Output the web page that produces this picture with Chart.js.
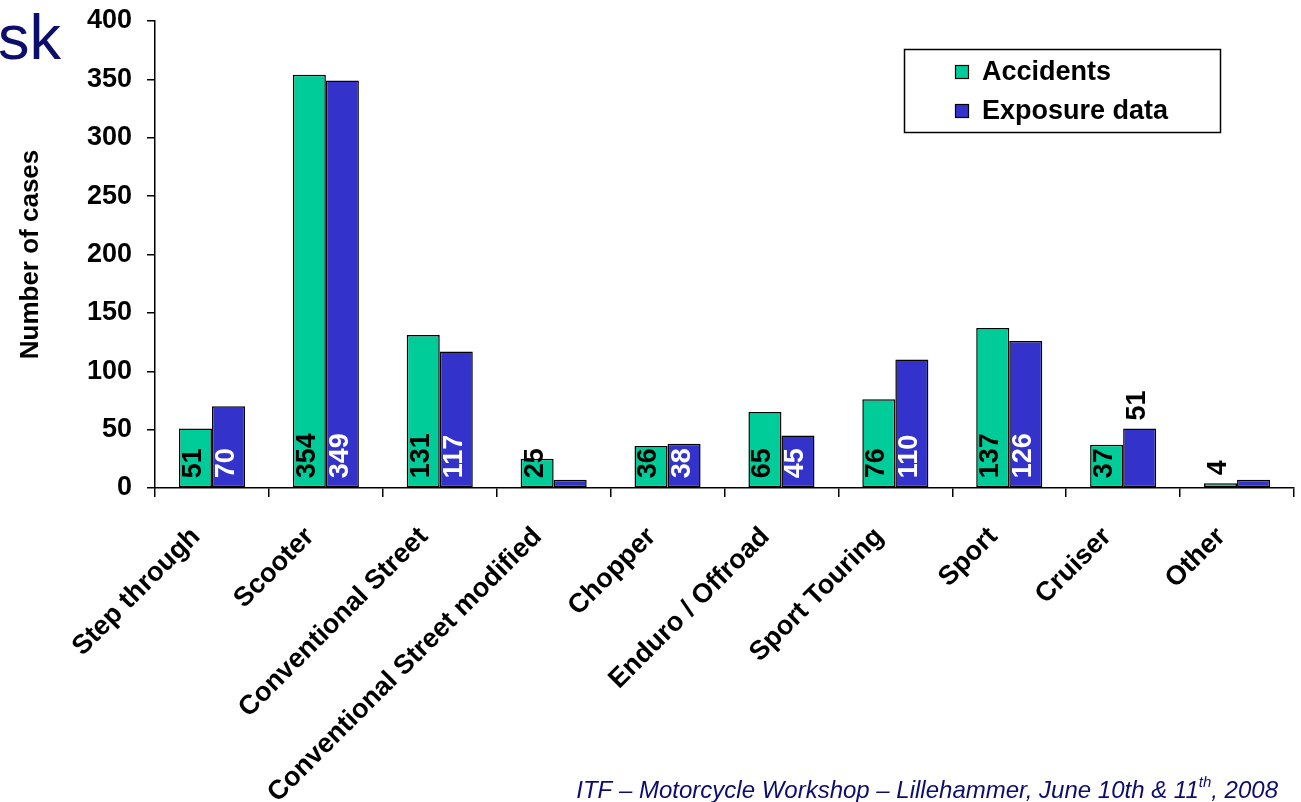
<!DOCTYPE html>
<html>
<head>
<meta charset="utf-8">
<script src="https://cdn.jsdelivr.net/npm/chart.js@4"></script>
<style>
  html, body { margin: 0; padding: 0; background: #fff; }
  #wrap { width: 1301px; height: 802px; position: relative; }
</style>
</head>
<body>
<div id="wrap"><canvas id="chart" width="1301" height="802"></canvas></div>
<script>
const categories = ['Step through', 'Scooter', 'Conventional Street', 'Conventional Street modified',
  'Chopper', 'Enduro / Offroad', 'Sport Touring', 'Sport', 'Cruiser', 'Other']
const accidents = [51, 354, 131, 25, 36, 65, 76, 137, 37, 4]
const exposure = [70, 349, 117, 7, 38, 45, 110, 126, 51, 7]
// where each value label goes: in = inside at bar base, out = above bar, none = no label
const accidentsLabelPos = ['in', 'in', 'in', 'in', 'in', 'in', 'in', 'in', 'in', 'out']
const exposureLabelPos = ['in', 'in', 'in', 'none', 'in', 'in', 'in', 'in', 'out', 'none']
const yTicks = [0, 50, 100, 150, 200, 250, 300, 350, 400]

const FONT = '"Liberation Sans", Arial, sans-serif'
const GREEN = '#00CC99'
const BLUE = '#3333CC'
const NAVY = '#0d0d6b'

// value labels, rotated, like the original slide
const barLabels = {
  id: 'barLabels',
  afterDatasetsDraw(chart) {
    const ctx = chart.ctx
    const positions = [accidentsLabelPos, exposureLabelPos]
    chart.data.datasets.forEach((ds, i) => {
      const meta = chart.getDatasetMeta(i)
      meta.data.forEach((bar, j) => {
        const pos = positions[i][j]
        if (pos === 'none') return
        ctx.save()
        ctx.font = 'bold 27px ' + FONT
        ctx.textAlign = 'left'
        ctx.textBaseline = 'middle'
        if (pos === 'in') {
          ctx.fillStyle = i === 0 ? '#000' : '#fff'
          ctx.translate(bar.x, bar.base - 9)
        } else {
          ctx.fillStyle = '#000'
          ctx.translate(bar.x, bar.y - 8)
        }
        ctx.rotate(-Math.PI / 2)
        ctx.fillText(String(ds.data[j]), 0, -2)
        ctx.restore()
      })
    })
  }
}

// boxed legend + slide leftovers (title fragment, footer)
const decorations = {
  id: 'decorations',
  afterDraw(chart) {
    const ctx = chart.ctx
    ctx.save()
    // legend box
    ctx.strokeStyle = '#000'
    ctx.lineWidth = 1.5
    ctx.strokeRect(904.5, 49.5, 316, 83)
    const items = [['Accidents', GREEN, 72], ['Exposure data', BLUE, 111]]
    ctx.font = 'bold 27px ' + FONT
    ctx.textBaseline = 'middle'
    ctx.textAlign = 'left'
    items.forEach(([txt, col, y]) => {
      ctx.fillStyle = col
      ctx.fillRect(955, y - 7, 14, 14)
      ctx.lineWidth = 1.2
      ctx.strokeRect(955.5, y - 6.5, 13, 13)
      ctx.fillStyle = '#000'
      ctx.fillText(txt, 982, y + 1)
    })
    // cut-off slide title
    ctx.fillStyle = NAVY
    ctx.font = '63px ' + FONT
    ctx.textBaseline = 'alphabetic'
    ctx.fillText('sk', -2, 59)
    // footer
    const mainTxt = 'ITF \u2013 Motorcycle Workshop \u2013 Lillehammer, June 10th & 11'
    ctx.font = 'italic 24px ' + FONT
    const tailW = ctx.measureText(', 2008').width
    ctx.font = 'italic 15px ' + FONT
    const supW = ctx.measureText('th').width
    const right = 1278
    const supX = right - tailW - supW
    ctx.font = 'italic 24px ' + FONT
    ctx.textAlign = 'right'
    ctx.fillText(mainTxt, supX, 798)
    ctx.textAlign = 'left'
    ctx.fillText(', 2008', right - tailW, 798)
    ctx.font = 'italic 15px ' + FONT
    ctx.fillText('th', supX, 787)
    ctx.restore()
  }
}

new Chart(document.getElementById('chart').getContext('2d'), {
  type: 'bar',
  data: {
    labels: categories,
    datasets: [
      {
        label: 'Accidents',
        data: accidents,
        backgroundColor: GREEN,
        borderColor: '#000',
        borderWidth: 1.5,
        borderSkipped: false,
      },
      {
        label: 'Exposure data',
        data: exposure,
        backgroundColor: BLUE,
        borderColor: '#000',
        borderWidth: 1.5,
        borderSkipped: false,
      },
    ],
  },
  options: {
    responsive: false,
    animation: false,
    devicePixelRatio: 1,
    categoryPercentage: 0.58,
    barPercentage: 1.0,
    layout: { padding: { top: 21, right: 7, left: 0, bottom: 0 } },
    plugins: {
      legend: { display: false },
      tooltip: { enabled: false },
    },
    scales: {
      x: {
        grid: { display: true, drawOnChartArea: false, color: '#000', tickLength: 9, lineWidth: 1.5, offset: true },
        border: { color: '#000', width: 1.5 },
        ticks: {
          color: '#000',
          font: { family: FONT, size: 27, weight: 'bold' },
          minRotation: 45,
          maxRotation: 45,
          autoSkip: false,
          padding: 24,
          labelOffset: -16,
        },
        afterFit(scale) {
          scale.height = 314
          scale.paddingLeft = 0
          scale.paddingRight = 0
        },
      },
      y: {
        min: 0,
        max: 400,
        afterBuildTicks(scale) { scale.ticks = yTicks.map(v => ({ value: v })) },
        grid: { display: true, drawOnChartArea: false, color: '#000', tickLength: 8, lineWidth: 1.5 },
        border: { color: '#000', width: 1.5 },
        ticks: {
          color: '#000',
          font: { family: FONT, size: 27, weight: 'bold' },
          padding: 15,
        },
        title: {
          display: true,
          text: 'Number of cases',
          color: '#000',
          font: { family: FONT, size: 26, weight: 'bold' },
          padding: { top: 15, bottom: 0 },
        },
        afterFit(scale) {
          scale.width = 155
          scale.paddingTop = 0
          scale.paddingBottom = 0
        },
      },
    },
  },
  plugins: [barLabels, decorations],
})
</script>
</body>
</html>
